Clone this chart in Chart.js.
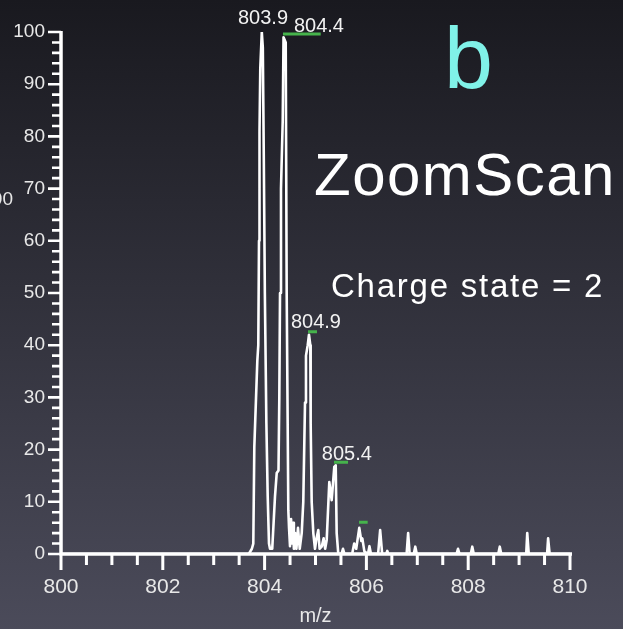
<!DOCTYPE html>
<html><head><meta charset="utf-8">
<script src="https://cdn.jsdelivr.net/npm/chart.js@4"></script>
<style>
html,body{margin:0;padding:0;width:623px;height:629px;overflow:hidden;}
body{background:linear-gradient(180deg,#19191f 0%,#4b4b5a 100%);}
canvas{display:block;}
</style></head>
<body>
<canvas id="c" width="623" height="629"></canvas>
<script>
// ---- data ----
const mz = [800.00,803.69,803.75,803.778,803.798,803.857,803.876,803.89,803.90,803.915,803.945,803.965,803.985,804.005,804.035,804.061,804.086,804.106,804.15,804.204,804.238,804.273,804.289,804.303,804.322,804.356,804.372,804.415,804.434,804.466,804.48,804.499,804.52,804.54,804.558,804.575,804.60,804.625,804.656,804.69,804.729,804.760,804.794,804.813,804.847,804.872,804.898,804.905,804.925,804.957,804.99,805.02,805.055,805.08,805.122,805.16,805.19,805.220,805.271,805.318,805.369,805.397,805.416,805.448,805.51,805.54,805.57,805.72,805.76,805.80,805.86,805.90,805.92,805.96,806.03,806.06,806.09,806.23,806.27,806.31,806.39,806.41,806.43,806.79,806.82,806.85,806.93,806.96,806.99,807.77,807.80,807.83,808.05,808.08,808.11,808.59,808.62,808.65,809.14,809.16,809.19,809.55,809.57,809.60,810.00];
const intensity = [0,0,1,2,20.5,37,40,60,81,93,100,97,75,50,25,11,2,1,1,11,15.5,16,30,50,70,83,99,98,50,8.4,5,1.5,6.7,2,6,1,4,1,5,1,4,10,29,38,40,42,40,25,10,4,1,3,4.6,1,1.4,3,1,2.7,13.8,10.3,16.7,17,4,0,0,1,0,0,2,1,5,2.5,3,0.5,0,1.5,0,0,4.6,0,0,0.6,0,0,4,0,0,1.4,0,0,1,0,0,1.4,0,0,1.4,0,0,4,0,0,3,0,0];
const xTickLabels = [800,802,804,806,808,810];
const yTickLabels = [0,10,20,30,40,50,60,70,80,90,100];
const peakLabels = ['803.9','804.4','804.9','805.4'];
const peakMz = [803.9,804.4,804.9,805.4];
const peakIntensity = [100,99,42,17];
const markStart = [804.361,804.853,805.363,805.855];
const markEnd = [805.102,805.029,805.639,806.025];
const markLevel = [99.6,42.6,17.6,6.1];
const xTitle = 'm/z';
const panelLetter = 'b';
const scanTitle = 'ZoomScan';
const chargeText = 'Charge state = 2';

// ---- styles ----
const FONT = '"Liberation Sans", Arial, Helvetica, sans-serif';
const labelOffsets = [[3.5,-8],[34,-5.5],[5.5,-6.8],[11,-5.3]];

function fitText(ctx, text, x, y, size, width) {
  ctx.font = size + 'px ' + FONT;
  ctx.letterSpacing = '0px';
  const w = ctx.measureText(text).width;
  const sp = (width - w) / text.length;
  ctx.letterSpacing = sp.toFixed(2) + 'px';
  ctx.fillText(text, x, y);
  ctx.letterSpacing = '0px';
}

const decor = {
  id:'decor',
  beforeDatasetsDraw(chart){
    const ctx = chart.ctx;
    ctx.save();
    ctx.textAlign = 'left'; ctx.textBaseline = 'alphabetic';
    ctx.fillStyle = '#80f2e8';
    ctx.font = '88px ' + FONT;
    ctx.fillText(panelLetter, 444, 88);
    ctx.fillStyle = '#ffffff';
    fitText(ctx, scanTitle, 314, 195, 60, 302);
    fitText(ctx, chargeText, 331, 297, 33, 273);
    ctx.fillStyle = '#e6e6e6';
    ctx.font = '19px ' + FONT;
    ctx.textAlign = 'right';
    ctx.fillText('00', 13, 205);
    ctx.restore();
  },
  afterDatasetsDraw(chart){
    const ctx = chart.ctx;
    const xs = chart.scales.x, ys = chart.scales.y;
    const ca = chart.chartArea;
    ctx.save();
    ctx.strokeStyle = '#ffffff';
    ctx.lineCap = 'butt';
    ctx.lineWidth = 3.5;
    ctx.beginPath();
    ctx.moveTo(ca.left, ca.top - 1); ctx.lineTo(ca.left, ca.bottom + 1.5);
    ctx.moveTo(ca.left - 1, ca.bottom); ctx.lineTo(ca.right + 2, ca.bottom);
    ctx.stroke();
    ctx.lineWidth = 2.6;
    ctx.beginPath();
    for (let v = 0; v <= 100; v += 2) {
      const py = ys.getPixelForValue(v);
      const len = (v % 10 === 0) ? 13 : 9;
      ctx.moveTo(ca.left - len, py); ctx.lineTo(ca.left, py);
    }
    ctx.stroke();
    ctx.lineWidth = 3;
    ctx.beginPath();
    for (let i = 0; i <= 20; i++) {
      const v = 800 + i * 0.5;
      const px = xs.getPixelForValue(v);
      const len = (i % 4 === 0) ? 16 : 11;
      ctx.moveTo(px, ca.bottom); ctx.lineTo(px, ca.bottom + len);
    }
    ctx.stroke();
    ctx.fillStyle = '#e8e8e8';
    ctx.font = '19px ' + FONT;
    ctx.textAlign = 'right'; ctx.textBaseline = 'middle';
    yTickLabels.forEach(v => ctx.fillText(String(v), 45, ys.getPixelForValue(v)));
    ctx.font = '21px ' + FONT;
    ctx.textAlign = 'center'; ctx.textBaseline = 'alphabetic';
    xTickLabels.forEach(v => ctx.fillText(String(v), xs.getPixelForValue(v), 593));
    ctx.font = '20px ' + FONT;
    ctx.fillText(xTitle, (ca.left + ca.right) / 2, 622);
    ctx.strokeStyle = '#46b34c';
    ctx.lineWidth = 3;
    ctx.beginPath();
    for (let i = 0; i < markStart.length; i++) {
      const py = ys.getPixelForValue(markLevel[i]);
      ctx.moveTo(xs.getPixelForValue(markStart[i]), py);
      ctx.lineTo(xs.getPixelForValue(markEnd[i]), py);
    }
    ctx.stroke();
    ctx.fillStyle = '#f2f2f2';
    ctx.font = '20px ' + FONT;
    ctx.textAlign = 'center'; ctx.textBaseline = 'alphabetic';
    peakLabels.forEach((t, i) => {
      const px = xs.getPixelForValue(peakMz[i]) + labelOffsets[i][0];
      const py = ys.getPixelForValue(peakIntensity[i]) + labelOffsets[i][1];
      ctx.fillText(t, px, py);
    });
    ctx.restore();
  }
};

new Chart(document.getElementById('c'), {
  type: 'line',
  data: {
    datasets: [{
      data: mz.map((m, i) => ({x: m, y: intensity[i]})),
      borderColor: '#ffffff',
      borderWidth: 2.6,
      pointRadius: 0,
      tension: 0,
      fill: false,
      borderJoinStyle: 'round'
    }]
  },
  options: {
    responsive: false,
    animation: false,
    layout: {padding: {left: 61, right: 53, top: 32, bottom: 75}},
    plugins: {legend: {display: false}, tooltip: {enabled: false}},
    scales: {
      x: {type: 'linear', min: 800, max: 810, display: false},
      y: {type: 'linear', min: 0, max: 100, display: false}
    }
  },
  plugins: [decor]
});
</script>
</body></html>
